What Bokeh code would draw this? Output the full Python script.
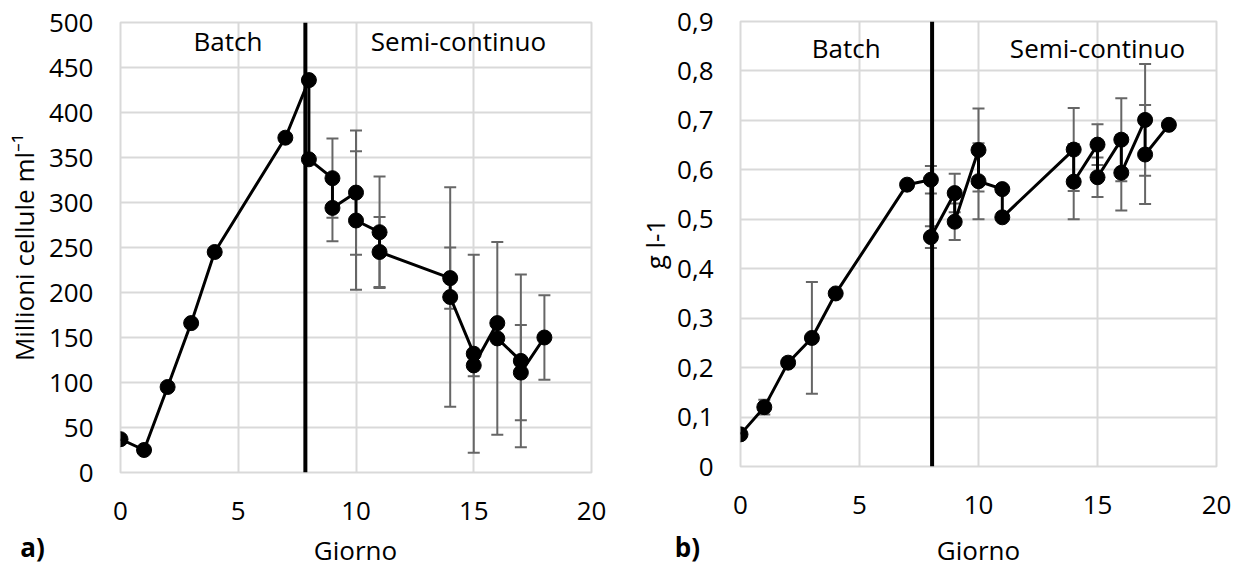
from bokeh.plotting import figure
from bokeh.layouts import row, column
from bokeh.models import Span, Label, Whisker, ColumnDataSource, FixedTicker, TeeHead, Range1d
from bokeh.embed import file_html
from bokeh.resources import INLINE

# ---------------- data ----------------
giorno = [0, 1, 2, 3, 4, 7, 8, 8, 9, 9, 10, 10, 11, 11, 14, 14, 15, 15, 16, 16, 17, 17, 18]

cellule = [37, 25, 95, 166, 245, 372, 436, 348, 327, 294, 311, 280, 267, 245,
           216, 195, 132, 119, 166, 149, 124, 111, 150]
cellule_err = [0, 0, 0, 0, 0, 0, 0, 0, 44, 37, 69, 77, 62, 39,
               34, 122, 110, 12, 0, 107, 96, 53, 47]

biomassa = [0.065, 0.12, 0.21, 0.26, 0.35, 0.57, 0.58, 0.464, 0.553, 0.495, 0.640, 0.577,
            0.561, 0.504, 0.641, 0.576, 0.651, 0.585, 0.661, 0.594, 0.701, 0.631, 0.691]
biomassa_err = [0, 0.015, 0, 0.113, 0, 0, 0.028, 0.022, 0.039, 0.037, 0.084, 0.077,
                0, 0, 0.084, 0.076, 0.041, 0.040, 0.084, 0.076, 0.113, 0.100, 0]

x_ticks = [0, 5, 10, 15, 20]
y_ticks_a = [0, 50, 100, 150, 200, 250, 300, 350, 400, 450, 500]
y_ticks_b = [0, 0.1, 0.2, 0.3, 0.4, 0.5, 0.6, 0.7, 0.8, 0.9]
y_labels_b = ["0", "0,1", "0,2", "0,3", "0,4", "0,5", "0,6", "0,7", "0,8", "0,9"]

phase_names = ["Batch", "Semi-continuo"]
x_title = "Giorno"

FONT = "Open Sans"
FS = "26px"
GRID = "#d9d9d9"
ERR = "#666666"


def make_panel(y, err, y_max, y_ticks, ylabel, frame_w, frame_h, borders, split_x,
               txt_pos, ylab_standoff):
    p = figure(frame_width=frame_w, frame_height=frame_h,
               x_range=Range1d(0, 20), y_range=Range1d(0, y_max),
               output_backend="svg", toolbar_location=None,
               min_border_left=borders[0], min_border_right=borders[1],
               min_border_top=borders[2], min_border_bottom=borders[3])
    p.frame_align = False
    p.background_fill_color = "white"
    p.border_fill_color = "white"
    p.outline_line_color = GRID
    p.outline_line_width = 2

    for ax in (p.xaxis[0], p.yaxis[0]):
        ax.axis_line_color = None
        ax.major_tick_line_color = None
        ax.minor_tick_line_color = None
        ax.major_tick_out = 0
        ax.major_tick_in = 0
        ax.major_label_text_font = FONT
        ax.major_label_text_font_size = FS
        ax.major_label_text_color = "black"
        ax.axis_label_text_font = FONT
        ax.axis_label_text_font_size = FS
        ax.axis_label_text_font_style = "normal"
        ax.axis_label_text_color = "black"

    p.xaxis.ticker = FixedTicker(ticks=x_ticks)
    p.yaxis.ticker = FixedTicker(ticks=y_ticks)
    p.xaxis.major_label_standoff = 29
    p.yaxis.major_label_standoff = 27
    p.yaxis.axis_label = ylabel
    p.yaxis.axis_label_standoff = ylab_standoff

    p.xgrid.ticker = FixedTicker(ticks=x_ticks)
    p.ygrid.ticker = FixedTicker(ticks=y_ticks)
    for g in (p.xgrid[0], p.ygrid[0]):
        g.grid_line_color = GRID
        g.grid_line_width = 2

    # error bars
    bx, bu, bl = [], [], []
    for xi, yi, ei in zip(giorno, y, err):
        if ei > 0:
            bx.append(xi)
            bu.append(yi + ei)
            bl.append(yi - ei)
    src = ColumnDataSource(dict(x=bx, upper=bu, lower=bl))
    w = Whisker(source=src, base="x", upper="upper", lower="lower", dimension="height",
                line_color=ERR, line_width=2, level="underlay",
                upper_head=TeeHead(size=12, line_color=ERR, line_width=2),
                lower_head=TeeHead(size=12, line_color=ERR, line_width=2))
    p.add_layout(w)

    # phase separator
    p.add_layout(Span(location=split_x, dimension="height", line_color="black", line_width=4))

    # data line and markers
    p.line(giorno, y, line_color="black", line_width=3)
    p.scatter(giorno, y, size=15, fill_color="black", line_color="black")

    for name, (tx, ty) in zip(phase_names, txt_pos):
        p.add_layout(Label(x=tx, y=ty, text=name, text_font=FONT, text_font_size=FS,
                           text_align="center", text_baseline="middle", text_color="black"))
    return p


def make_strip(width, height, panel_lbl, panel_pos, title_pos):
    s = figure(frame_width=width, frame_height=height,
               x_range=Range1d(0, width), y_range=Range1d(0, height),
               x_axis_location=None, y_axis_location=None,
               output_backend="svg", toolbar_location=None,
               min_border_left=0, min_border_right=0, min_border_top=0, min_border_bottom=0)
    s.frame_align = False
    s.outline_line_color = None
    s.background_fill_color = "white"
    s.border_fill_color = "white"
    s.grid.visible = False
    s.add_layout(Label(x=title_pos[0], y=title_pos[1], text=x_title, text_font=FONT,
                       text_font_size=FS, text_align="center", text_baseline="middle",
                       text_color="black"))
    s.add_layout(Label(x=panel_pos[0], y=panel_pos[1], text=panel_lbl, text_font=FONT,
                       text_font_size=FS, text_font_style="bold", text_align="center",
                       text_baseline="middle", text_color="black"))
    return s


p1 = make_panel(cellule, cellule_err, 500, y_ticks_a, "Millioni cellule ml\u207b\u00b9",
                471, 450, (120, 20, 22, 56), 7.85,
                [(4.56, 480), (14.35, 480)], 4)
s1 = make_strip(611, 39, "a)", (32, 21), (355, 18))

p2 = make_panel(biomassa, biomassa_err, 0.9, y_ticks_b, "g l-1",
                476, 445, (129, 25, 21, 62), 8.05,
                [(4.44, 0.847), (15.0, 0.847)], 1)
p2.yaxis.major_label_overrides = {t: l for t, l in zip(y_ticks_b, y_labels_b)}
s2 = make_strip(630, 39, "b)", (76, 21), (367, 18))

layout = row(column(p1, s1), column(p2, s2))
open("out.html", "w").write(file_html(layout, INLINE))
